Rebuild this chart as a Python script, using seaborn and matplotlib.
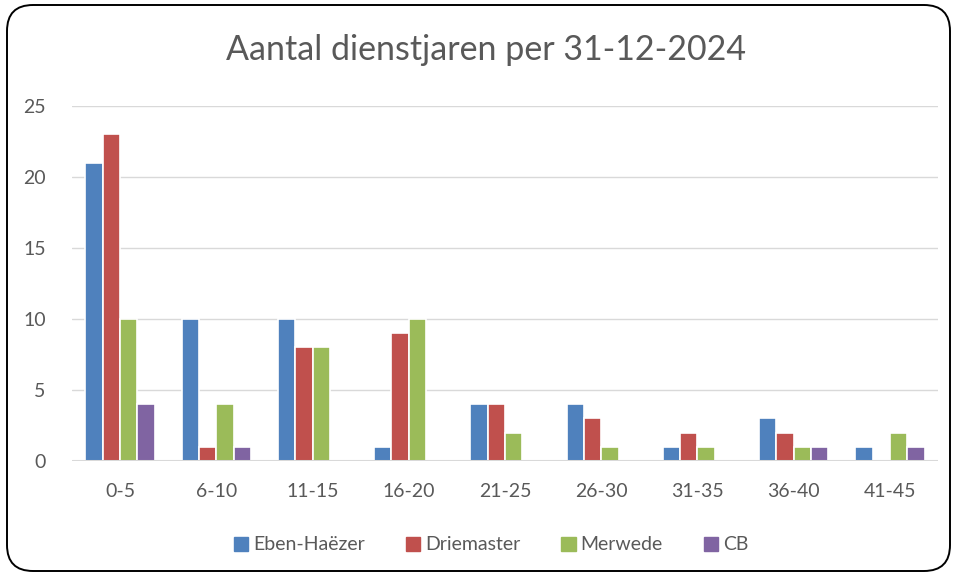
import numpy as np
import pandas as pd
import matplotlib
matplotlib.use("Agg")
import matplotlib.pyplot as plt
import seaborn as sns
from matplotlib.patches import FancyBboxPatch
from matplotlib.transforms import IdentityTransform

# ── Data ─────────────────────────────────────────────────────────────────────
categories = ["0-5", "6-10", "11-15", "16-20", "21-25", "26-30", "31-35", "36-40", "41-45"]
series = ["Eben-Haëzer", "Driemaster", "Merwede", "CB"]
eben_haezer = [21, 10, 10, 1, 4, 4, 1, 3, 1]
driemaster = [23, 1, 8, 9, 4, 3, 2, 2, 0]
merwede = [10, 4, 8, 10, 2, 1, 1, 1, 2]
cb = [4, 1, 0, 0, 0, 0, 0, 1, 1]
y_ticks = [0, 5, 10, 15, 20, 25]

colors = ["#4F81BD", "#C0504D", "#9BBB59", "#8064A2"]
TXT = "#595959"
GRID = "#D9D9D9"

df = pd.DataFrame({
    "cat": categories * 4,
    "serie": sum([[s] * len(categories) for s in series], []),
    "val": eben_haezer + driemaster + merwede + cb,
})

# ── Style ────────────────────────────────────────────────────────────────────
sns.set_theme(style="white")
plt.rcParams["font.family"] = ["Lato", "DejaVu Sans"]

fig = plt.figure(figsize=(9.57, 5.77), dpi=100)
ax = fig.add_axes([72 / 957, 1 - 461 / 577, (938 - 72) / 957, (461 - 106) / 577])

sns.barplot(data=df, x="cat", y="val", hue="serie", order=categories,
            hue_order=series, palette=colors, width=0.72, ax=ax,
            edgecolor="white", linewidth=1.2, saturation=1, zorder=2)

ax.set_ylim(0, 25)
ax.set_xlim(-0.5, len(categories) - 0.5)
ax.set_yticks(y_ticks)
ax.yaxis.grid(True, color=GRID, linewidth=1, zorder=0)
ax.set_axisbelow(True)
ax.axhline(0, color=GRID, linewidth=2.2, zorder=4)
for s in ax.spines.values():
    s.set_visible(False)
ax.set_xlabel("")
ax.set_ylabel("")
ax.tick_params(axis="both", length=0, labelsize=14, colors=TXT)
ax.tick_params(axis="x", pad=16)
ax.tick_params(axis="y", pad=19)

fig.text(486.5 / 957, 1 - 50 / 577, "Aantal dienstjaren per 31-12-2024",
         ha="center", va="center", fontsize=24.5, color=TXT)

ax.get_legend().remove()
handles = [plt.Rectangle((0, 0), 1, 1, color=c) for c in colors]
fig.legend(handles, series, loc="center", bbox_to_anchor=(491 / 957, 1 - 545 / 577),
           ncol=4, frameon=False, fontsize=14, labelcolor=TXT,
           handlelength=0.75, handleheight=0.75, handletextpad=0.25, columnspacing=2.1)

# rounded chart frame (pixel coordinates)
frame = FancyBboxPatch((7 + 26, 6 + 26), 943 - 52, 566 - 52,
                       boxstyle="round,pad=26", transform=IdentityTransform(),
                       facecolor="none", edgecolor="black", linewidth=1.4)
fig.patches.append(frame)

plt.savefig("out.png", dpi=100, facecolor="white")
plt.close()
